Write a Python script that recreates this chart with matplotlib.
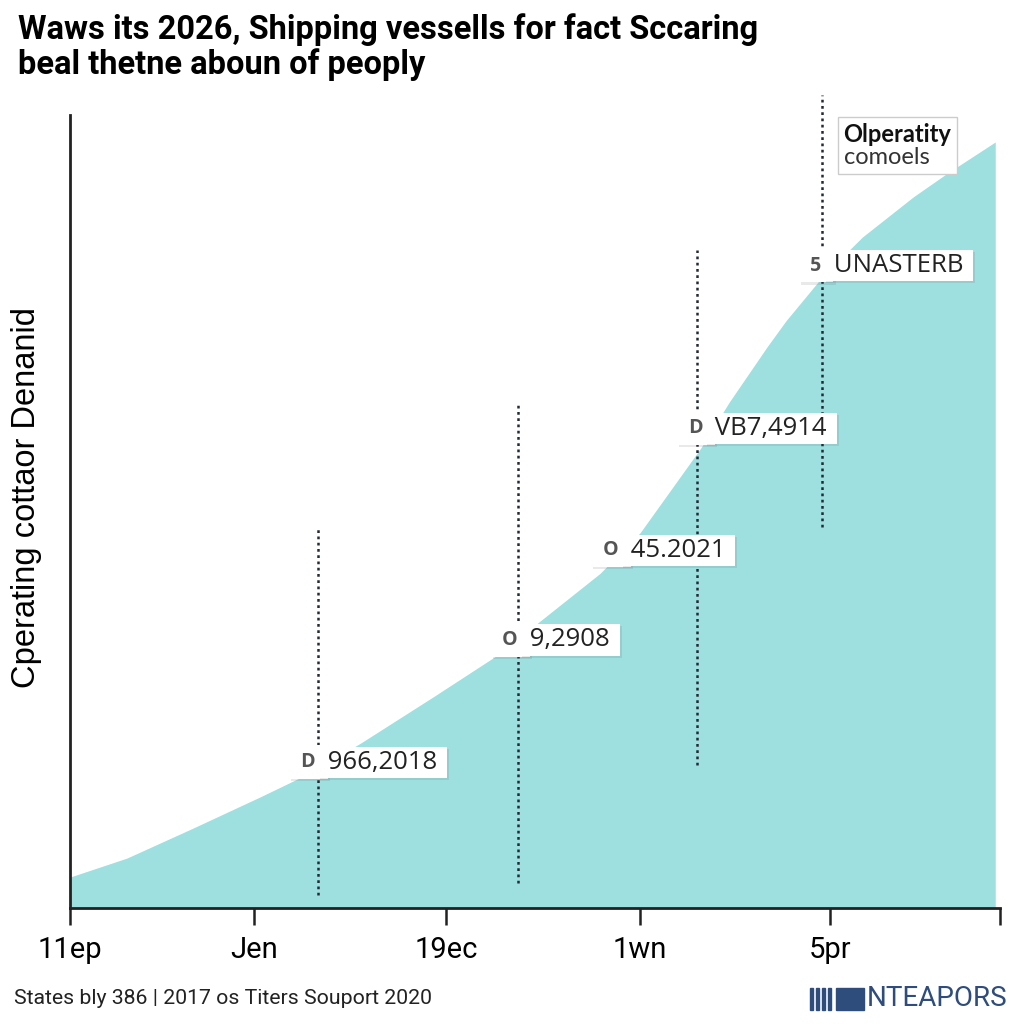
import matplotlib.pyplot as plt
import matplotlib.patheffects as pe
from matplotlib.patches import Rectangle
from matplotlib.offsetbox import TextArea, VPacker, AnchoredOffsetbox

# area curve
curve_x = [0, 0.3, 0.65, 1.0, 1.26, 1.53, 1.91, 2.25, 2.47, 2.79, 3.0, 3.32, 3.47, 3.67,
           3.77, 3.96, 4.17, 4.44, 4.62, 4.87]
curve_y = [3.9, 6.3, 10.1, 14.0, 17.0, 20.8, 26.6, 31.9, 36.1, 42.2, 47.3, 58.0, 63.8, 70.8,
           74.1, 79.6, 84.6, 89.7, 92.7, 96.6]

tick_pos = [0, 0.97, 1.98, 3.0, 4.0]
tick_labels = ['11ep', 'Jen', '19ec', '1wn', '5pr']

# dotted markers
marker_x = [1.305, 2.36, 3.3, 3.96]
marker_lo = [1.6, 3.2, 18, 48]
marker_hi = [48, 63.8, 83, 102.5]

# value callouts
label_prefix = ['D', 'O', 'O', 'D', '5']
label_text = ['966,2018', '9,2908', '45.2021', 'VB7,4914', 'UNASTERB']
label_x = [1.19, 2.25, 2.78, 3.23, 3.87]
label_y = [18.4, 33.8, 45.1, 60.5, 81.0]

legend_title = 'Olperatity'
legend_sub = 'comoels'

fig = plt.figure(figsize=(10.24, 10.24), dpi=100)
ax = fig.add_axes([70/1024, 116/1024, 930/1024, 793/1024])
ax.set_xlim(0, 4.895)
ax.set_ylim(0, 100)

ax.fill_between(curve_x, 0, curve_y, color='#9edfe0', lw=0, zorder=1)

for x, lo, hi in zip(marker_x, marker_lo, marker_hi):
    ax.plot([x, x], [lo, hi], color='#222a33', lw=1.8, ls=(0, (1.1, 1.4)), zorder=2, clip_on=False)

shadow = [pe.SimplePatchShadow(offset=(1.5, -1.5), alpha=0.12), pe.Normal()]
for p, t, x, y in zip(label_prefix, label_text, label_x, label_y):
    pt = ax.text(x, y, ' ' + p + ' ', fontsize=14, color='#555', weight='bold', va='center',
                 ha='left', family='Open Sans', zorder=4,
                 bbox=dict(boxstyle='square,pad=0.35', fc='white', ec='none'))
    pt.get_bbox_patch().set_path_effects(shadow)
    vt = ax.annotate(' ' + t + ' ', xy=(1, 0.5), xycoords=pt, xytext=(0, 0),
                     textcoords='offset points', fontsize=18.5, color='#222', va='center',
                     ha='left', family='Open Sans', zorder=5,
                     bbox=dict(boxstyle='square,pad=0.12', fc='white', ec='none'))
    vt.get_bbox_patch().set_path_effects(shadow)

for s in ['top', 'right']:
    ax.spines[s].set_visible(False)
ax.spines['left'].set_linewidth(2)
ax.spines['bottom'].set_linewidth(2)
ax.spines['left'].set_color('#222')
ax.spines['bottom'].set_color('#222')
ax.set_yticks([])
ax.set_xticks(tick_pos + [4.895])
ax.set_xticklabels(tick_labels + [''], fontsize=21, family='Roboto')
ax.tick_params(axis='x', length=12, width=1.8, color='#222', pad=8)

ax.set_ylabel('Cperating cottaor Denanid', fontsize=23.5, family='Liberation Sans')
ax.yaxis.set_label_coords(-0.03, 0.518)

fig.text(18/1024, 1 - 47/1024, 'Waws its 2026, Shipping vessells for fact Sccaring\nbeal thetne aboun of peoply',
         fontsize=23.5, weight='bold', family='Roboto', va='center', ha='left', linespacing=1.1)

# legend-like box
box = VPacker(children=[
    TextArea(legend_title, textprops=dict(fontsize=17, weight='bold', family='Lato', color='#111')),
    TextArea(legend_sub, textprops=dict(fontsize=17, family='Lato', color='#333')),
], align='left', pad=0, sep=1)
anchored = AnchoredOffsetbox(loc='upper left', child=box, pad=0.4, borderpad=0, frameon=True,
                             bbox_to_anchor=(838/1024, 1 - 117/1024), bbox_transform=fig.transFigure)
anchored.patch.set_edgecolor('#cccccc')
anchored.patch.set_linewidth(1)
anchored.patch.set_boxstyle('square,pad=0')
ax.add_artist(anchored)
anchored.set_zorder(6)

fig.text(14/1024, 1 - 998/1024, 'States bly 386 | 2017 os Titers Souport 2020', fontsize=15.3,
         family='Roboto', color='#222', va='center', ha='left')

for i in range(4):
    fig.patches.append(Rectangle(((810 + i * 6) / 1024, 1 - 1010/1024), 3/1024, 22/1024,
                                 transform=fig.transFigure, color='#2f4d7c'))
fig.patches.append(Rectangle((836/1024, 1 - 1010/1024), 28/1024, 22/1024,
                             transform=fig.transFigure, color='#2f4d7c'))
fig.text(1007/1024, 1 - 999/1024, 'NTEAPORS', fontsize=20, family='Roboto', color='#2f4d7c',
         va='center', ha='right')

fig.savefig('out.png', dpi=100)
